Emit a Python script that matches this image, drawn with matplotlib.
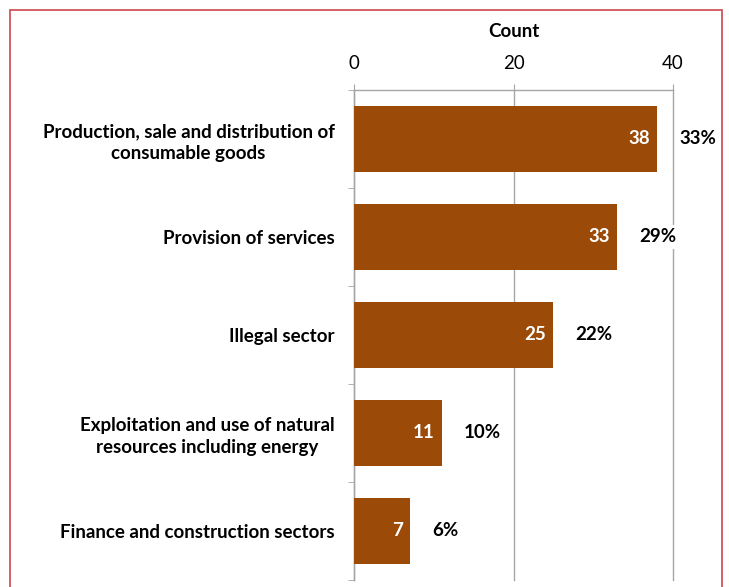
import matplotlib.pyplot as plt
from matplotlib.patches import Rectangle
from matplotlib.ticker import FixedLocator

categories = [
    "Production, sale and distribution of\nconsumable goods",
    "Provision of services",
    "Illegal sector",
    "Exploitation and use of natural\nresources including energy",
    "Finance and construction sectors",
]
counts = [38, 33, 25, 11, 7]
shares = ["33%", "29%", "22%", "10%", "6%"]
x_ticks = [0, 20, 40]

bar_color = "#9B4A07"
axis_gray = "#A6A6A6"
plt.rcParams["font.family"] = ["Lato", "DejaVu Sans"]

fig = plt.figure(figsize=(7.29, 5.87), dpi=100)
ax = fig.add_axes([354 / 729, 1 - 580 / 587, 319 / 729, 490 / 587])

pos = list(range(len(categories)))
ax.barh(pos, counts, height=0.68, color=bar_color, zorder=3)

for y, c, s in zip(pos, counts, shares):
    ax.annotate(str(c), (c, y), xytext=(-5, 0), textcoords="offset points",
                ha="right", va="center", color="white", fontsize=13.5,
                fontweight="bold", zorder=4)
    ax.annotate(s, (c, y), xytext=(16, 0), textcoords="offset points",
                ha="left", va="center", color="black", fontsize=13.5,
                fontweight="bold", zorder=4,
                bbox=dict(boxstyle="square,pad=0.2", fc="white", ec="none"))

ax.set_xlim(0, 40)
ax.set_ylim(len(categories) - 0.5, -0.5)

# x axis on top
ax.xaxis.tick_top()
ax.xaxis.set_label_position("top")
ax.set_xticks(x_ticks)
ax.set_xticklabels([str(t) for t in x_ticks])
ax.tick_params(axis="x", which="major", direction="out", length=4,
               color=axis_gray, labelsize=13.5, pad=9)
ax.set_xlabel("Count", fontsize=13.5, fontweight="bold", labelpad=13)
ax.grid(axis="x", color=axis_gray, linewidth=1, zorder=0)
for gl in ax.get_xgridlines():
    gl.set_clip_on(False)

# categories on the left, ticks between them
ax.set_yticks(pos)
ax.set_yticklabels(categories)
ax.yaxis.set_minor_locator(FixedLocator([p - 0.5 for p in pos] + [pos[-1] + 0.5]))
ax.tick_params(axis="y", which="major", length=0, labelsize=13.5, pad=14)
ax.tick_params(axis="y", which="minor", direction="out", length=4, color=axis_gray)
for t in ax.get_yticklabels():
    t.set_fontweight("bold")
    t.set_multialignment("center")
    t.set_linespacing(1.3)

for side in ["right", "bottom"]:
    ax.spines[side].set_visible(False)
for side in ["left", "top"]:
    ax.spines[side].set_color(axis_gray)
    ax.spines[side].set_linewidth(1)

# red frame around the chart
fig.patches.append(Rectangle((10 / 729, -0.05), 712 / 729, 1.05 - 10 / 587,
                             transform=fig.transFigure, fill=False,
                             edgecolor="#D0555C", linewidth=1.3))

fig.savefig("out.png", dpi=100)
